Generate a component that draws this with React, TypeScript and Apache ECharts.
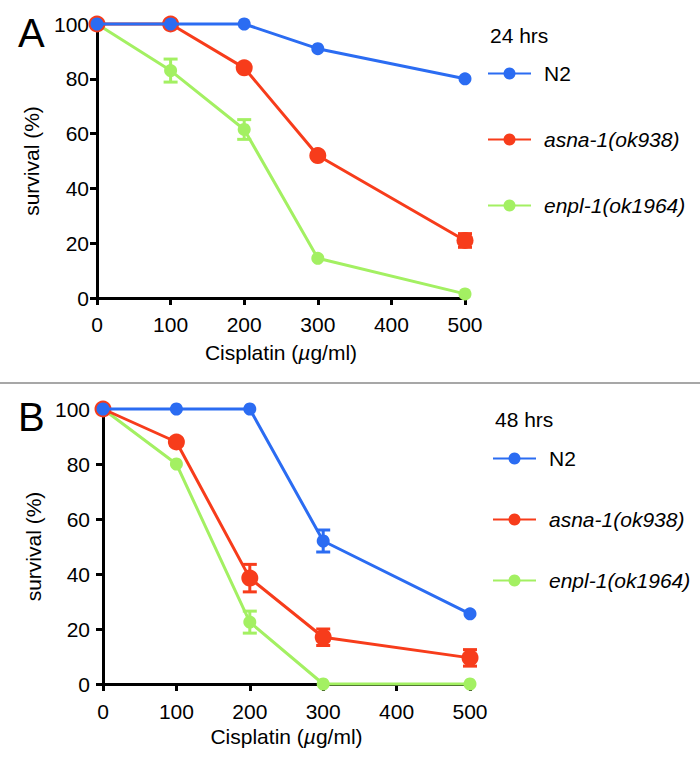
import React, { useEffect, useRef } from "react";
import * as echarts from "echarts";

const doses = [0, 100, 200, 300, 500];
const xTicks = [0, 100, 200, 300, 400, 500];
const seriesNames = ["N2", "asna-1(ok938)", "enpl-1(ok1964)"];
const panelLabels = ["A", "B"];
const timeLabels = ["24 hrs", "48 hrs"];

// Panel A (24 hrs)
const n2A = [100, 100, 100, 91, 80];
const n2AErr = [0, 0, 0, 0, 0];
const asnaA = [100, 100, 84, 52, 21];
const asnaAErr = [0, 0, 0, 0, 2.5];
const enplA = [100, 83, 61.5, 14.5, 1.5];
const enplAErr = [0, 4.2, 3.6, 0, 0];

// Panel B (48 hrs)
const n2B = [100, 100, 100, 52, 25.5];
const n2BErr = [0, 0, 0, 4, 0];
const asnaB = [100, 88, 38.5, 17, 9.5];
const asnaBErr = [0, 0, 5, 3, 3];
const enplB = [100, 80, 22.5, 0, 0];
const enplBErr = [0, 0, 4, 0, 0];

const COLORS = { n2: "#2b6cf2", asna: "#f73c1b", enpl: "#a3f062" };
const FONT = "'Liberation Sans', Arial, Helvetica, sans-serif";

export default function App() {
  const ref = useRef<HTMLDivElement>(null);
  useEffect(() => {
    if (!ref.current) return;
    const chart = echarts.init(ref.current, undefined, { renderer: "svg" });

    const panels = [
      { n2: n2A, n2e: n2AErr, asna: asnaA, asnae: asnaAErr, enpl: enplA, enple: enplAErr },
      { n2: n2B, n2e: n2BErr, asna: asnaB, asnae: asnaBErr, enpl: enplB, enple: enplBErr },
    ];

    const series: any[] = [];
    panels.forEach((p, idx) => {
      const defs = [
        { name: seriesNames[2], vals: p.enpl, errs: p.enple, color: COLORS.enpl, size: 13 },
        { name: seriesNames[1], vals: p.asna, errs: p.asnae, color: COLORS.asna, size: 17 },
        { name: seriesNames[0], vals: p.n2, errs: p.n2e, color: COLORS.n2, size: 13 },
      ];
      defs.forEach((d, k) => {
        series.push({
          type: "line",
          name: d.name,
          xAxisIndex: idx,
          yAxisIndex: idx,
          data: doses.map((x, i) => [x, d.vals[i]]),
          symbol: "circle",
          symbolSize: d.size,
          clip: false,
          lineStyle: { color: d.color, width: 3 },
          itemStyle: { color: d.color },
          z: 2 + k,
        });
        series.push({
          type: "custom",
          name: d.name + " err",
          xAxisIndex: idx,
          yAxisIndex: idx,
          encode: { x: 0, y: 1 },
          clip: false,
          z: 2 + k,
          data: doses.map((x, i) => [x, d.vals[i], d.errs[i]]),
          renderItem: (params: any, api: any) => {
            const x = api.value(0);
            const y = api.value(1);
            const e = api.value(2);
            if (!e) return null;
            const top = api.coord([x, y + e]);
            const bot = api.coord([x, y - e]);
            const hw = 7;
            const st = { stroke: d.color, lineWidth: 3 };
            return {
              type: "group",
              children: [
                { type: "line", shape: { x1: top[0], y1: top[1], x2: bot[0], y2: bot[1] }, style: st },
                { type: "line", shape: { x1: top[0] - hw, y1: top[1], x2: top[0] + hw, y2: top[1] }, style: st },
                { type: "line", shape: { x1: bot[0] - hw, y1: bot[1], x2: bot[0] + hw, y2: bot[1] }, style: st },
              ],
            };
          },
        });
      });
    });

    const axisCommon = {
      axisLine: { show: true, lineStyle: { color: "#000", width: 3 } },
      axisTick: { show: true, length: 7, lineStyle: { color: "#000", width: 3 } },
      splitLine: { show: false },
    };

    const xAxis = [0, 1].map((i) => ({
      type: "value",
      gridIndex: i,
      min: 0,
      max: 500,
      interval: 100,
      ...axisCommon,
      axisLabel: {
        color: "#000",
        fontSize: 21,
        fontFamily: FONT,
        margin: i === 0 ? 16 : 17,
        customValues: xTicks,
      },
      name: "Cisplatin ({it|µ}g/ml)",
      nameLocation: "middle",
      nameGap: i === 0 ? 44 : 42,
      nameTextStyle: {
        color: "#000",
        fontSize: 21,
        fontFamily: FONT,
        rich: { it: { fontStyle: "italic", fontSize: 21, fontFamily: FONT, color: "#000" } },
      },
    }));

    const yAxis = [0, 1].map((i) => ({
      type: "value",
      gridIndex: i,
      min: 0,
      max: 100,
      interval: 20,
      ...axisCommon,
      axisLabel: { color: "#000", fontSize: 21, fontFamily: FONT, margin: i === 0 ? 8 : 13 },
      name: "survival (%)",
      nameLocation: "middle",
      nameGap: i === 0 ? 55 : 56,
      nameRotate: 90,
      nameTextStyle: { color: "#000", fontSize: 21, fontFamily: FONT },
    }));

    const legendCommon = {
      orient: "vertical",
      selectedMode: false,
      itemWidth: 43,
      itemHeight: 15,
      data: seriesNames,
      formatter: (name: string) => (name === "N2" ? `{n|${name}}` : `{i|${name}}`),
      textStyle: {
        color: "#000",
        fontSize: 21,
        fontFamily: FONT,
        rich: {
          n: { fontSize: 21, fontFamily: FONT, color: "#000", padding: [0, 0, 0, 8] },
          i: { fontSize: 21, fontFamily: FONT, color: "#000", fontStyle: "italic", padding: [0, 0, 0, 8] },
        },
      },
    };

    chart.setOption({
      animation: false,
      backgroundColor: "#fff",
      grid: [
        { left: 97, top: 24, width: 368, height: 274 },
        { left: 103, top: 409, width: 367, height: 275 },
      ],
      xAxis,
      yAxis,
      legend: [
        { ...legendCommon, left: 482, top: 58, itemGap: 45 },
        { ...legendCommon, left: 487, top: 443, itemGap: 40 },
      ],
      series,
      graphic: [
        { type: "line", shape: { x1: 0, y1: 383, x2: 700, y2: 383 }, style: { stroke: "#8a8a8a", lineWidth: 1.5 } },
        { type: "text", x: 18, y: 33, style: { text: panelLabels[0], fontSize: 40, fontFamily: FONT, fill: "#000", textVerticalAlign: "middle" } },
        { type: "text", x: 18, y: 417, style: { text: panelLabels[1], fontSize: 40, fontFamily: FONT, fill: "#000", textVerticalAlign: "middle" } },
        { type: "text", x: 490, y: 35, style: { text: timeLabels[0], fontSize: 21, fontFamily: FONT, fill: "#000", textVerticalAlign: "middle" } },
        { type: "text", x: 495, y: 419, style: { text: timeLabels[1], fontSize: 21, fontFamily: FONT, fill: "#000", textVerticalAlign: "middle" } },
      ],
    });
    return () => chart.dispose();
  }, []);
  return (
    <div
      ref={ref}
      style={{ position: "absolute", left: 0, top: 0, width: 700, height: 767, background: "#fff" }}
    />
  );
}
